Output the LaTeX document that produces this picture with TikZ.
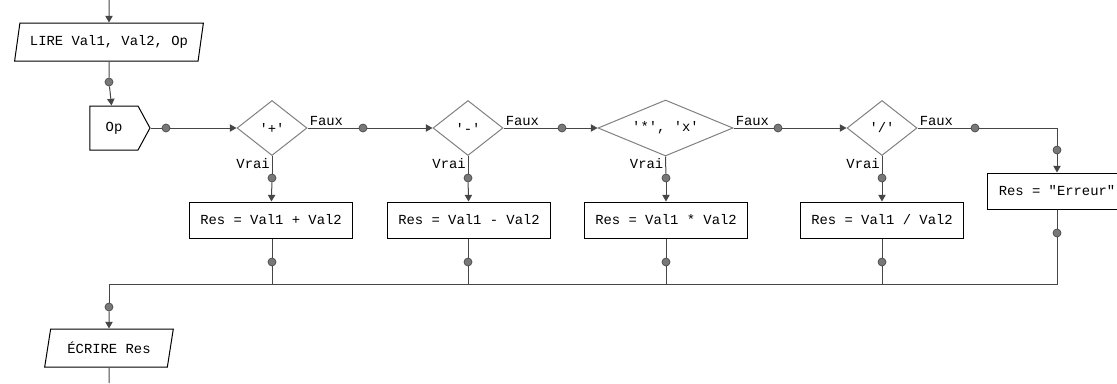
\documentclass[tikz,border=0pt]{standalone}
\usepackage{fontspec}
\setmonofont{Liberation Mono}
\usetikzlibrary{positioning,arrows.meta,shapes.geometric,shapes.symbols,calc}
\definecolor{linegray}{RGB}{70,70,70}
\definecolor{shapegray}{RGB}{128,128,128}
\definecolor{dotgray}{RGB}{120,120,120}

\begin{document}
\begin{tikzpicture}[
  x=0.75pt, y=-0.75pt,
  every node/.style={font=\ttfamily\fontsize{10.4pt}{12pt}\selectfont},
  box/.style={draw=black, line width=0.75pt, fill=white, minimum width=122.5pt,
              minimum height=27pt, inner sep=0pt},
  iobox/.style={draw=black, line width=0.75pt, trapezium, trapezium left angle=70,
                trapezium right angle=110, trapezium stretches=true,
                minimum height=28.5pt, inner sep=0pt},
  test/.style={draw=shapegray, line width=0.75pt, diamond, aspect=1.27, inner sep=0pt,
               minimum width=52.5pt, minimum height=41.25pt},
  choice/.style={draw=black, line width=0.75pt, signal, signal to=east,
                 signal pointer angle=123, minimum width=45pt, minimum height=33pt,
                 inner sep=0pt},
  dot/.style={circle, draw=linegray, fill=dotgray, line width=0.5pt,
              minimum size=6pt, inner sep=0pt},
  lbl/.style={inner sep=1.5pt},
  line/.style={draw=linegray, line width=0.75pt},
  arrow/.style={line, -{Triangle[length=5pt, width=5.5pt]}}
]
  \useasboundingbox (0,0) rectangle (1117,383);

  \coordinate (start) at (109,0);
  \node[iobox, minimum width=141.75pt] (lire) at (109,42) {LIRE Val1, Val2, Op};
  \node[dot] (d0) at (109,82) {};
  \node[choice] (op) at (114,128) {Op\hspace{12pt}};
  \node[dot] (d1) at (166,128) {};

  \node[test] (t1) at (272,128) {'+'};
  \node[test] (t2) at (468,128) {'-'};
  \node[test, aspect=2.4, minimum width=101.25pt, minimum height=42pt] (t3) at (665.5,128) {'*', 'x'};
  \node[test] (t4) at (882,128) {'/'};

  \node[dot] (f1) at (363,128) {};
  \node[dot] (f2) at (562,128) {};
  \node[dot] (f3) at (778,128) {};
  \node[dot] (f4) at (975,128) {};
  \coordinate (k5) at (1057,128);

  \node[dot] (v1) at (272,178) {};
  \node[dot] (v2) at (468,178) {};
  \node[dot] (v3) at (666,178) {};
  \node[dot] (v4) at (882,178) {};
  \node[dot] (v5) at (1057,150) {};

  \node[box] (r1) at (271,220) {Res = Val1 + Val2};
  \node[box] (r2) at (469,220) {Res = Val1 - Val2};
  \node[box] (r3) at (666,220) {Res = Val1 * Val2};
  \node[box] (r4) at (882,220) {Res = Val1 / Val2};
  \node[box, minimum width=105pt] (r5) at (1057,191) {Res = "Erreur"};

  \node[dot] (b1) at (272,262) {};
  \node[dot] (b2) at (468,262) {};
  \node[dot] (b3) at (666,262) {};
  \node[dot] (b4) at (882,262) {};
  \node[dot] (b5) at (1057,233) {};

  \coordinate (j0) at (109,284);
  \node[dot] (e) at (109,307) {};
  \node[iobox, minimum width=96.75pt] (ecrire) at (109,348) {ÉCRIRE Res};
  \coordinate (stop) at (109,383);

  \node[lbl, anchor=south west] at (t1.east) {Faux};
  \node[lbl, anchor=south west] at (t2.east) {Faux};
  \node[lbl, anchor=south west] at (t3.east) {Faux};
  \node[lbl, anchor=south west] at (t4.east) {Faux};
  \node[lbl, anchor=north east] at (t1.south) {Vrai};
  \node[lbl, anchor=north east] at (t2.south) {Vrai};
  \node[lbl, anchor=north east] at (t3.south) {Vrai};
  \node[lbl, anchor=north east] at (t4.south) {Vrai};

  \draw[arrow] (start) -- (lire);
  \draw[line] (lire) -- (d0);
  \draw[arrow] (d0) -- (op);
  \draw[line] (op.east) -- (d1);
  \draw[arrow] (d1) -- (t1.west);
  \draw[line] (t1.east) -- (f1);
  \draw[arrow] (f1) -- (t2.west);
  \draw[line] (t2.east) -- (f2);
  \draw[arrow] (f2) -- (t3.west);
  \draw[line] (t3.east) -- (f3);
  \draw[arrow] (f3) -- (t4.west);
  \draw[line] (t4.east) -- (f4) -- (k5) -- (v5);
  \draw[arrow] (v5) -- (r5);

  \draw[line] (t1.south) -- (v1);
  \draw[arrow] (v1) -- (r1);
  \draw[line] (t2.south) -- (v2);
  \draw[arrow] (v2) -- (r2);
  \draw[line] (t3.south) -- (v3);
  \draw[arrow] (v3) -- (r3);
  \draw[line] (t4.south) -- (v4);
  \draw[arrow] (v4) -- (r4);

  \draw[line] (r1.south -| b1) -- (b1) -- (b1 |- j0);
  \draw[line] (r2.south -| b2) -- (b2) -- (b2 |- j0);
  \draw[line] (r3.south -| b3) -- (b3) -- (b3 |- j0);
  \draw[line] (r4.south -| b4) -- (b4) -- (b4 |- j0);
  \draw[line] (r5.south -| b5) -- (b5) |- (j0) -- (e);
  \draw[arrow] (e) -- (ecrire);
  \draw[line] (ecrire) -- (stop);
\end{tikzpicture}
\end{document}
